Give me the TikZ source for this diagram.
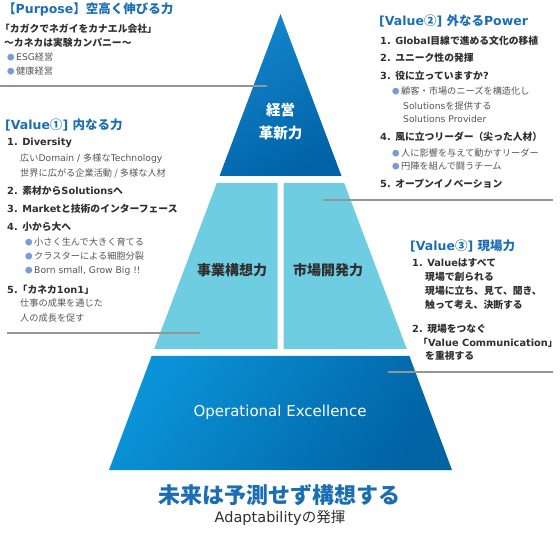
\documentclass[tikz,border=0pt]{standalone}
\usepackage{fontspec}
\setmainfont{DejaVu Sans}
\newfontfamily\jpfont{Noto Sans CJK JP}
\XeTeXinterchartokenstate=1
\newXeTeXintercharclass\cjkcls
\makeatletter
\newcommand\setcjkrange[2]{\count@=#1\relax
  \loop\XeTeXcharclass\count@=\cjkcls\relax
  \ifnum\count@<#2\advance\count@ by 1\repeat}
\setcjkrange{"3000}{"30FF}
\setcjkrange{"4E00}{"9FFF}
\setcjkrange{"FF00}{"FFEF}
\setcjkrange{"2460}{"24FF}
\setcjkrange{"25A0}{"25FF}
\XeTeXinterchartoks 0 \cjkcls = {\jpfont}
\XeTeXinterchartoks 4095 \cjkcls = {\jpfont}
\XeTeXinterchartoks \cjkcls 0 = {\rmfamily}
\makeatother
\definecolor{ttlblue}{HTML}{1B6DB4}
\definecolor{txtdark}{HTML}{2F2F2F}
\definecolor{txtgray}{HTML}{555555}
\definecolor{bulc}{HTML}{7A9BD6}
\definecolor{midcyan}{HTML}{6FCDE1}
\definecolor{topA}{HTML}{1485CC}
\definecolor{topB}{HTML}{0063A7}
\definecolor{botA}{HTML}{0B93D8}
\definecolor{botB}{HTML}{0063A4}
\definecolor{leadgray}{HTML}{959595}
\newcommand\bdot{\textcolor{bulc}{\fontsize{7.5}{7.5}\selectfont ●}\hspace{1.5pt}}
\tikzset{
  ttl/.style={anchor=west, inner sep=0pt, text=ttlblue, font=\fontsize{12.5}{14}\selectfont\bfseries},
  itm/.style={anchor=west, inner sep=0pt, text=txtdark, font=\fontsize{9.8}{12}\selectfont\bfseries},
  subtxt/.style={anchor=west, inner sep=0pt, text=txtgray, font=\fontsize{9.2}{11}\selectfont},
  pyrw/.style={inner sep=0pt, text=white, font=\fontsize{14.5}{16}\selectfont\bfseries},
  pyrd/.style={inner sep=0pt, text=txtdark, font=\fontsize{14}{16}\selectfont\bfseries},
  leadline/.style={draw=leadgray, line width=1.3pt},
}
\begin{document}
\begin{tikzpicture}[x=1pt,y=-1pt]
\useasboundingbox (0,0) rectangle (560,537);
% pyramid
\shade[top color=topA, bottom color=topB, shading angle=30] (280.5,14) -- (341.5,176) -- (219.5,176) -- cycle;
\fill[midcyan] (216.8,183) -- (277.5,183) -- (277.5,349) -- (154.2,349) -- cycle;
\fill[midcyan] (283.5,183) -- (344.2,183) -- (406.8,349) -- (283.5,349) -- cycle;
\shade[top color=botA, bottom color=botB, shading angle=55] (151.6,356) -- (409.4,356) -- (452,470) -- (109,470) -- cycle;
% pyramid labels
\node[pyrw] (keiei) at (280.5,110) {経営};
\node[pyrw] (kakushin) at (280.5,133) {革新力};
\node[pyrd] (jigyo) at (232,270) {事業構想力};
\node[pyrd] (shijo) at (328,270) {市場開発力};
\node[pyrw, font=\fontsize{15}{17}\selectfont] (opex) at (280,412) {Operational Excellence};
% leader lines
\coordinate (l1a) at (0,86); \coordinate (l1b) at (267,86);
\coordinate (l2a) at (323,200); \coordinate (l2b) at (553,200);
\coordinate (l3a) at (7,333); \coordinate (l3b) at (200,333);
\coordinate (l4a) at (388,372); \coordinate (l4b) at (553,372);
\draw[leadline] (l1a) -- (l1b);
\draw[leadline] (l2a) -- (l2b);
\draw[leadline] (l3a) -- (l3b);
\draw[leadline] (l4a) -- (l4b);
% Purpose
\node[ttl] (p0) at (3,9) {【Purpose】空高く伸びる力};
\node[itm] (p1) at (0,29) {「カガクでネガイをカナエル会社」};
\node[itm] (p2) at (4,43) {〜カネカは実験カンパニー〜};
\node[subtxt] (p3) at (7,57) {\bdot ESG経営};
\node[subtxt] (p4) at (7,71) {\bdot 健康経営};
% Value 1
\node[ttl] (a0) at (5,125) {[Value①] 内なる力};
\node[itm] (a1) at (7,143) {1. Diversity};
\node[subtxt] (a1b) at (20,159) {広いDomain / 多様なTechnology};
\node[subtxt] (a1c) at (20,173) {世界に広がる企業活動 / 多様な人材};
\node[itm] (a2) at (7,191) {2. 素材からSolutionsへ};
\node[itm] (a3) at (7,209) {3. Marketと技術のインターフェース};
\node[itm] (a4) at (7,227) {4. 小から大へ};
\node[subtxt] (a4a) at (25,242) {\bdot 小さく生んで大きく育てる};
\node[subtxt] (a4b) at (25,256) {\bdot クラスターによる細胞分裂};
\node[subtxt] (a4c) at (25,271) {\bdot Born small, Grow Big !!};
\node[itm] (a5) at (7,290) {5.「カネカ1on1」};
\node[subtxt] (a5b) at (20,303) {仕事の成果を通じた};
\node[subtxt] (a5c) at (20,318) {人の成長を促す};
% Value 2
\node[ttl] (b0) at (379,21) {[Value②] 外なるPower};
\node[itm] (b1) at (380,41) {1. Global目線で進める文化の移植};
\node[itm] (b2) at (380,58) {2. ユニーク性の発揮};
\node[itm] (b3) at (380,76) {3. 役に立っていますか?};
\node[subtxt] (b3a) at (392,91) {\bdot 顧客・市場のニーズを構造化し};
\node[subtxt] (b3b) at (403,106) {Solutionsを提供する};
\node[subtxt] (b3c) at (403,119) {Solutions Provider};
\node[itm] (b4) at (380,137) {4. 風に立つリーダー（尖った人材）};
\node[subtxt] (b4a) at (392,153) {\bdot 人に影響を与えて動かすリーダー};
\node[subtxt] (b4b) at (392,166) {\bdot 円陣を組んで闘うチーム};
\node[itm] (b5) at (380,184) {5. オープンイノベーション};
% Value 3
\node[ttl] (c0) at (410,246) {[Value③] 現場力};
\node[itm] (c1) at (412,263) {1. Valueはすべて};
\node[itm] (c1b) at (425,277) {現場で創られる};
\node[itm] (c1c) at (425,291) {現場に立ち、見て、聞き、};
\node[itm] (c1d) at (425,305) {触って考え、決断する};
\node[itm] (c2) at (412,329) {2. 現場をつなぐ};
\node[itm] (c2b) at (418,343) {「Value Communication」};
\node[itm] (c2c) at (425,356) {を重視する};
% bottom
\node[inner sep=0pt, text=ttlblue, font=\fontsize{22}{24}\selectfont\bfseries] (mirai) at (279,495) {未来は予測せず構想する};
\node[inner sep=0pt, text=txtdark, font=\fontsize{14.5}{16}\selectfont] (adapt) at (280,518) {Adaptabilityの発揮};
\end{tikzpicture}
\end{document}
